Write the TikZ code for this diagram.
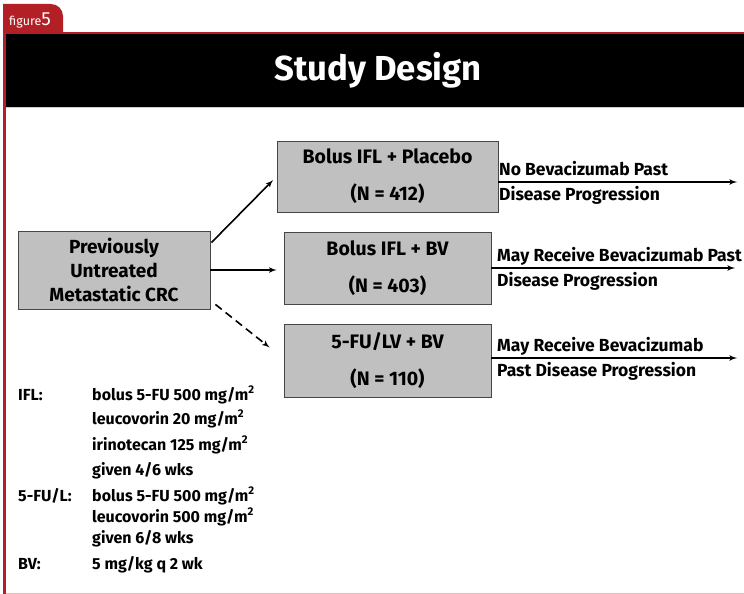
\documentclass[tikz,border=0pt]{standalone}
\usepackage{fontspec}
\setmainfont{Fira Sans}
\usepackage{tikz}
\usetikzlibrary{arrows,positioning,calc}
\definecolor{tabred}{RGB}{178,32,38}
\definecolor{boxgray}{RGB}{192,192,192}
\definecolor{edgegray}{RGB}{70,70,70}

\begin{document}
\begin{tikzpicture}[x=1pt,y=-1pt,>=latex',
  box/.style={draw=edgegray,fill=boxgray,line width=0.8pt,align=center,inner sep=0pt,font=\bfseries\fontsize{19.5}{37}\selectfont},
  outcome/.style={anchor=west,align=left,inner sep=0pt,font=\bfseries\fontsize{17.5}{25}\selectfont},
  legend/.style={anchor=base west,inner sep=0pt,font=\bfseries\fontsize{16}{16}\selectfont},
  link/.style={->,line width=1.6pt}]
\useasboundingbox (0,0) rectangle (744,594);
% frame and title band
\fill[tabred] (3,34) -- (3,4) [rounded corners=12pt]-- (63,4) [sharp corners]-- (63,34) -- cycle;
\fill[tabred] (3,32) rectangle (744,34);
\fill[tabred] (3,32) rectangle (6,594);
\fill[black] (6,34) rectangle (744,107);
\draw[gray!40] (6,107.5) -- (744,107.5);
\draw[tabred!30] (6,593) -- (744,593);
\node[text=white,anchor=base west,inner sep=0pt,font=\fontsize{12.5}{12}\selectfont] (fig) at (9,26) {figure\fontsize{19}{19}\selectfont 5};
\node[text=white,font=\bfseries\fontsize{34.7}{34}\selectfont] (title) at (378,70) {Study Design};
% arms
\node[box,minimum width=192pt,minimum height=78pt,font=\bfseries\fontsize{19}{24}\selectfont] (crc) at (114,270) {Previously\\Untreated\\Metastatic CRC};
\node[box,minimum width=221pt,minimum height=71pt] (placebo) at (387.5,176.5) {Bolus IFL + Placebo\\(N = 412)};
\node[box,minimum width=207pt,minimum height=72pt] (iflbv) at (387.5,268) {Bolus IFL + BV\\(N = 403)};
\node[box,minimum width=207pt,minimum height=73pt] (fubv) at (387.5,360.5) {5-FU/LV + BV\\(N = 110)};
\draw[link,shorten >=5pt] ($(crc.north east)+(1,12)$) -- (placebo.west);
\draw[link,shorten >=7pt] (crc.east) -- (crc.east -| iflbv.west);
\draw[link,dash pattern=on 8pt off 5pt] ($(crc.south east)+(5,-5)$) -- ($(fubv.west)+(-14,-13)$);
% outcomes
\coordinate (end1) at (737,182);
\coordinate (end2) at (735,268);
\coordinate (end3) at (737,358);
\node[outcome] (out1) at (499,182.5) {No Bevacizumab Past\\Disease Progression};
\node[outcome] (out2) at (497,268.5) {May Receive Bevacizumab Past\\Disease Progression};
\node[outcome] (out3) at (497,359) {May Receive Bevacizumab\\Past Disease Progression};
\draw[link] (placebo.east |- end1) -- (end1);
\draw[link] (iflbv.east |- end2) -- (end2);
\draw[link] (fubv.east |- end3) -- (end3);
% dosing legend
\node[legend] (ifl) at (18,400) {IFL:};
\node[legend] (ifl1) at (92,400) {bolus 5-FU 500 mg/m\textsuperscript{2}};
\node[legend] (ifl2) at (92,424) {leucovorin 20 mg/m\textsuperscript{2}};
\node[legend] (ifl3) at (92,450) {irinotecan 125 mg/m\textsuperscript{2}};
\node[legend] (ifl4) at (92,475) {given 4/6 wks};
\node[legend] (ful) at (18,501) {5-FU/L:};
\node[legend] (ful1) at (92,501) {bolus 5-FU 500 mg/m\textsuperscript{2}};
\node[legend] (ful2) at (92,522) {leucovorin 500 mg/m\textsuperscript{2}};
\node[legend] (ful3) at (92,543) {given 6/8 wks};
\node[legend] (bv) at (18,569) {BV:};
\node[legend] (bv1) at (92,569) {5 mg/kg q 2 wk};
\end{tikzpicture}
\end{document}
